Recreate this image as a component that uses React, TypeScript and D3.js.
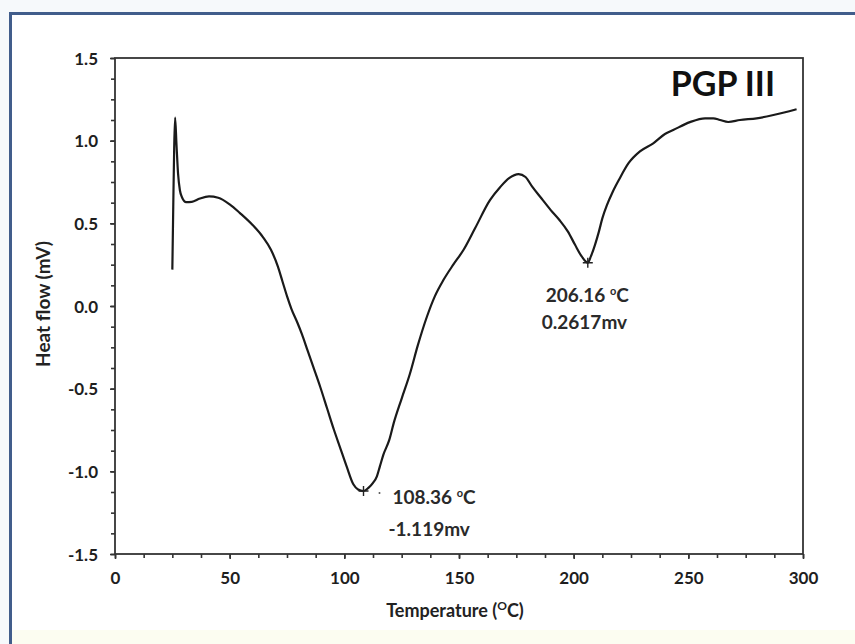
import React, { useEffect, useRef } from 'react';
import * as d3 from 'd3';

// DSC trace
const temps = [
  25.0, 25.4, 25.8, 26.2, 26.8, 27.5, 28.3, 29.3, 31.0, 33.5, 37.0, 41.0, 45.0, 50.0,
  54.5, 60.0, 64.5, 68.0, 71.0, 73.0, 75.0, 77.0, 79.5, 81.5, 84.0, 86.5, 89.5, 92.5,
  95.5, 98.0, 101.0, 104.0, 106.0, 108.36, 110.5, 112.5, 114.2, 115.5, 117.0, 119.6,
  121.5, 125.0, 128.6, 132.0, 136.0, 139.5, 143.2, 147.5, 152.0, 157.0, 163.5, 168.0,
  172.0, 176.0, 179.0, 182.0, 186.0, 190.0, 193.8, 197.5, 200.6, 203.5, 206.16, 207.5,
  209.3, 211.0, 212.5, 214.5, 217.0, 220.0, 224.0, 228.9, 234.7, 239.8, 243.4, 250.7,
  257.3, 260.9, 263.8, 267.4, 272.5, 279.8, 287.1, 297.2,
];
const heatFlow = [
  0.22, 0.6, 0.95, 1.14, 0.98, 0.8, 0.7, 0.655, 0.628, 0.63, 0.65, 0.663, 0.655, 0.615,
  0.562, 0.49, 0.417, 0.34, 0.24, 0.15, 0.06, -0.02, -0.1, -0.17, -0.27, -0.37, -0.49, -0.62,
  -0.75, -0.85, -0.97, -1.08, -1.11, -1.119, -1.1, -1.07, -1.03, -0.97, -0.9, -0.81,
  -0.71, -0.56, -0.41, -0.24, -0.065, 0.06, 0.157, 0.25, 0.34, 0.47, 0.64, 0.72,
  0.775, 0.798, 0.78, 0.72, 0.65, 0.58, 0.52, 0.45, 0.37, 0.3, 0.2617, 0.3,
  0.37, 0.45, 0.53, 0.61, 0.69, 0.77, 0.865, 0.935, 0.984, 1.04, 1.064, 1.112,
  1.135, 1.135, 1.125, 1.113, 1.125, 1.135, 1.155, 1.19,
];

const xTicks = [0, 50, 100, 150, 200, 250, 300];
const yTicks = [1.5, 1.0, 0.5, 0.0, -0.5, -1.0, -1.5];

// marked peaks
const peakTemps = [108.36, 206.16];
const peakValues = [-1.119, 0.2617];
const peakTempLabels = ['108.36 ', '206.16 '];
const peakValueLabels = ['-1.119mv', '0.2617mv'];

const title = 'PGP III';

const W = 855;
const H = 644;
const FONT = 'Lato, "Open Sans", sans-serif';

export default function App() {
  const ref = useRef<SVGSVGElement | null>(null);

  useEffect(() => {
    drawChart();
  });

  function drawChart() {
    const margin = { top: 58, right: 52, bottom: 90, left: 115 };
    const width = W - margin.left - margin.right;
    const height = H - margin.top - margin.bottom;

    const svg = d3.select(ref.current);
    svg.selectAll('*').remove();

    // page background and blue frame
    svg.append('rect').attr('width', W).attr('height', H).attr('fill', '#f6f9fb');
    svg.append('rect').attr('x', 10).attr('y', 13).attr('width', W).attr('height', H)
      .attr('fill', '#ffffff');
    svg.append('rect').attr('x', 12).attr('y', 630).attr('width', W).attr('height', 20)
      .attr('fill', '#fcfdf1');
    svg.append('path')
      .attr('d', `M10.5,${H} V13.5 H${W}`)
      .attr('fill', 'none')
      .attr('stroke', '#415d8b')
      .attr('stroke-width', 3);

    const g = svg.append('g').attr('transform', `translate(${margin.left},${margin.top})`);

    const xScale = d3.scaleLinear().domain([0, 300]).range([0, width]);
    const yScale = d3.scaleLinear().domain([-1.5, 1.5]).range([height, 0]);

    const xMinor = d3.range(0, 300.01, 12.5);
    const yMinor = d3.range(-1.5, 1.501, 0.125);

    // minor ticks
    g.append('g')
      .attr('transform', `translate(0,${height})`)
      .call(d3.axisBottom(xScale).tickValues(xMinor).tickSize(4).tickFormat(() => ''))
      .call((a) => a.select('.domain').remove());
    g.append('g')
      .call(d3.axisLeft(yScale).tickValues(yMinor).tickSize(4).tickFormat(() => ''))
      .call((a) => a.select('.domain').remove());

    // major ticks + labels
    const fmt = d3.format('.1f');
    const xAxis = g.append('g')
      .attr('transform', `translate(0,${height})`)
      .call(d3.axisBottom(xScale).tickValues(xTicks).tickSize(5).tickPadding(13)
        .tickFormat((d) => String(d)));
    const yAxis = g.append('g')
      .call(d3.axisLeft(yScale).tickValues(yTicks).tickSize(5).tickPadding(12)
        .tickFormat((d) => fmt(d as number).replace('\u2212', '-')));

    [xAxis, yAxis].forEach((a) => {
      a.select('.domain').remove();
      a.selectAll('text')
        .style('font-family', FONT)
        .style('font-weight', 'bold')
        .style('font-size', '17px')
        .attr('fill', '#1e1e1e');
    });
    yAxis.selectAll('text').attr('dy', '0.36em');
    g.selectAll('.tick line').attr('stroke', '#333').attr('stroke-width', 1.6);

    // plot frame
    g.append('rect')
      .attr('width', width)
      .attr('height', height)
      .attr('fill', 'none')
      .attr('stroke', '#333')
      .attr('stroke-width', 1.8);

    // curve
    const pts: [number, number][] = temps.map((t, i) => [t, heatFlow[i]]);
    const line = d3.line<[number, number]>()
      .x((d) => xScale(d[0]))
      .y((d) => yScale(d[1]))
      .curve(d3.curveMonotoneX);
    g.append('path')
      .datum(pts)
      .attr('d', line)
      .attr('fill', 'none')
      .attr('stroke', '#1a1a1a')
      .attr('stroke-width', 2.2)
      .attr('stroke-linejoin', 'round');

    // peak markers and labels
    const offsets = [
      { t: [29, 13], v: [25, 45] },
      { t: [-42, 39], v: [-46, 66] },
    ];
    peakTemps.forEach((t, i) => {
      const px = xScale(t);
      const py = yScale(peakValues[i]);
      g.append('path')
        .attr('d', `M${px - 5},${py} H${px + 5} M${px},${py - 5} V${py + 5}`)
        .attr('stroke', '#222')
        .attr('stroke-width', 1.4);

      const tl = g.append('text')
        .attr('x', px + offsets[i].t[0])
        .attr('y', py + offsets[i].t[1])
        .style('font-family', FONT)
        .style('font-size', '19px')
        .style('font-weight', 'bold')
        .attr('fill', '#2a2a2a')
        .text(peakTempLabels[i]);
      tl.append('tspan').attr('dy', -7).style('font-size', '11px').text('o');
      tl.append('tspan').attr('dy', 7).text('C');

      g.append('text')
        .attr('x', px + offsets[i].v[0])
        .attr('y', py + offsets[i].v[1])
        .style('font-family', FONT)
        .style('font-size', '19px')
        .style('font-weight', 'bold')
        .attr('fill', '#2a2a2a')
        .text(peakValueLabels[i]);
    });
    g.append('circle')
      .attr('cx', xScale(peakTemps[0]) + 16)
      .attr('cy', yScale(peakValues[0]) + 2)
      .attr('r', 1)
      .attr('fill', '#555');

    // title
    g.append('text')
      .attr('x', width - 28)
      .attr('y', 38)
      .attr('text-anchor', 'end')
      .style('font-family', FONT)
      .style('font-weight', 'bold')
      .style('font-size', '34px')
      .attr('fill', '#111')
      .text(title);

    // axis titles
    const xt = g.append('text')
      .attr('x', width / 2 - 4)
      .attr('y', height + 63)
      .attr('text-anchor', 'middle')
      .style('font-family', FONT)
      .style('font-weight', 'bold')
      .style('font-size', '18px')
      .attr('fill', '#222')
      .text('Temperature (');
    xt.append('tspan').attr('dy', -7).style('font-size', '12px').text('O');
    xt.append('tspan').attr('dy', 7).text('C)');

    g.append('text')
      .attr('transform', `translate(${-65},${height / 2 - 2}) rotate(-90)`)
      .attr('text-anchor', 'middle')
      .style('font-family', FONT)
      .style('font-weight', 'bold')
      .style('font-size', '19px')
      .attr('fill', '#222')
      .text('Heat flow (mV)');
  }

  return (
    <svg
      ref={ref}
      width={W}
      height={H}
      style={{ position: 'absolute', left: 0, top: 0, display: 'block' }}
    />
  );
}
